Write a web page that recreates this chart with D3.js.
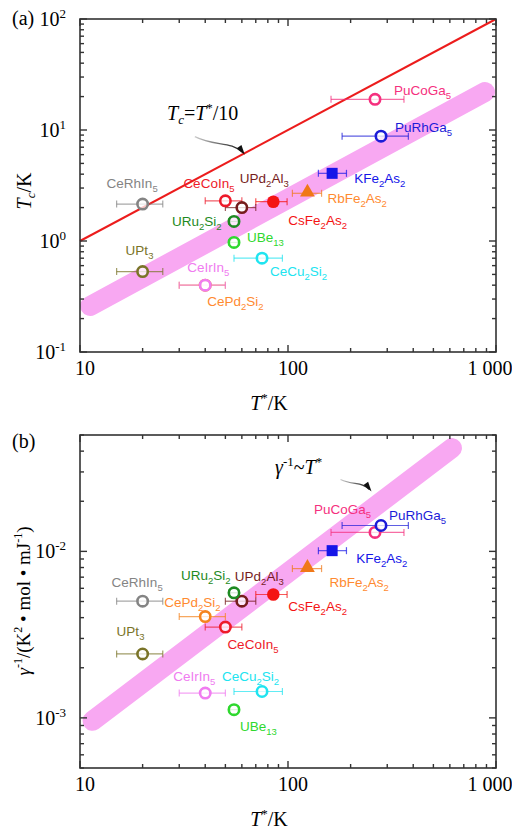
<!DOCTYPE html>
<html>
<head>
<meta charset="utf-8">
<script src="https://cdn.jsdelivr.net/npm/d3@7"></script>
<style>
  body { margin: 0; background: #fff; }
</style>
</head>
<body>
<div id="chart"></div>
<script>
// ---- data ----
const materials = ["PuCoGa5", "PuRhGa5", "KFe2As2", "RbFe2As2", "CsFe2As2", "CeCoIn5", "UPd2Al3",
                   "URu2Si2", "UBe13", "CeCu2Si2", "CePd2Si2", "CeIrIn5", "UPt3", "CeRhIn5"];
const tStar     = [262, 280, 163, 124, 85, 50, 60, 55, 55, 75, 40, 40, 20, 20];
const tStarLow  = [161, 182, 140, 105, 70, 40, 50, 52, 52, 55, 30, 30, 15, 15];
const tStarHigh = [361, 379, 191, 145, 99, 60, 70, 58, 58, 94, 50, 50, 25, 25];
const tc        = [18.9, 8.8, 4.07, 2.69, 2.26, 2.3, 2.0, 1.5, 0.97, 0.70, 0.40, 0.40, 0.53, 2.15];
const gammaInv  = [0.0130, 0.0143, 0.0101, 0.00788, 0.00551, 0.00351, 0.00502,
                   0.00564, 0.00112, 0.00144, 0.00406, 0.00141, 0.00242, 0.00502];

const tcLine    = [[10, 1], [1000, 100]];          // Tc = T*/10
const tcBand    = [[11.2, 0.26], [885, 22]];
const gammaBand = [[11.5, 0.00096], [614, 0.0417]];

const xTickValues = [10, 100, 1000];
const xTickLabels = ["10", "100", "1 000"];
const yTicksA = [100, 10, 1, 0.1];
const yTicksB = [0.01, 0.001];

// ---- styles ----
const style = {
  PuCoGa5:  {color: "#f5307e", shape: "open"},
  PuRhGa5:  {color: "#1c1cd8", shape: "open"},
  KFe2As2:  {color: "#1515e8", shape: "square"},
  RbFe2As2: {color: "#f07818", label: "#ff8a30", shape: "triangle"},
  CsFe2As2: {color: "#f41414", shape: "filled"},
  CeCoIn5:  {color: "#ee1a2a", shape: "open"},
  UPd2Al3:  {color: "#761c1c", shape: "open"},
  URu2Si2:  {color: "#1e8a22", shape: "open"},
  UBe13:    {color: "#2ed82e", shape: "open"},
  CeCu2Si2: {color: "#20e4f0", shape: "open"},
  CePd2Si2: {color: "#f5841e", label: "#ff8a30", shape: "open"},
  CeIrIn5:  {color: "#f07cf0", shape: "open"},
  UPt3:     {color: "#7a7428", shape: "open"},
  CeRhIn5:  {color: "#848484", shape: "open"}
};
// label offsets (px) relative to each marker, per panel
const labelOffA = {
  PuCoGa5: [19, -4], PuRhGa5: [14, -4], KFe2As2: [22, 10], RbFe2As2: [20, 10], CsFe2As2: [15, 23],
  CeCoIn5: [-42, -13], UPd2Al3: [-2, -25], URu2Si2: [-62, 5], UBe13: [13, 0], CeCu2Si2: [8, 18],
  CePd2Si2: [2, 21], CeIrIn5: [-18, -13], UPt3: [-17, -17], CeRhIn5: [-36, -16]
};
const labelOffB = {
  PuCoGa5: [-61, -18], PuRhGa5: [8, -6], KFe2As2: [24, 12], RbFe2As2: [22, 18], CsFe2As2: [15, 17],
  CeCoIn5: [2, 22], UPd2Al3: [-7, -20], URu2Si2: [-53, -13], UBe13: [6, 21], CeCu2Si2: [-40, -11],
  CePd2Si2: [-41, -10], CeIrIn5: [-32, -12], UPt3: [-26, -18], CeRhIn5: [-31, -14]
};

const width = 512, height = 831;
const left = 80, right = 496;
const bandColor = "#f8a8f2";
const frameColor = "#333";
const serif = "'Liberation Serif', 'Times New Roman', 'DejaVu Serif', serif";
const sans = "'Liberation Sans', Arial, 'DejaVu Sans', sans-serif";

const svg = d3.select("#chart").append("svg")
  .attr("width", width).attr("height", height)
  .attr("font-family", serif);

const x = d3.scaleLog().domain([10, 1000]).range([left, right]);

const panels = [
  {top: 19, bottom: 352, domain: [0.1, 100], values: tc, band: tcBand, offs: labelOffA,
   yTicks: yTicksA, tag: "(a)", tagY: 25},
  {top: 435, bottom: 768, domain: [0.0005, 0.05], values: gammaInv, band: gammaBand, offs: labelOffB,
   yTicks: yTicksB, tag: "(b)", tagY: 448}
];

// write a chemical formula with numeric subscripts
function formula(sel, str) {
  const parts = str.match(/\d+|\D+/g);
  let down = false;
  parts.forEach(p => {
    const isNum = /\d/.test(p);
    const t = sel.append("tspan").text(p);
    if (isNum) { t.attr("font-size", 9.5).attr("dy", 4); down = true; }
    else if (down) { t.attr("dy", -4); down = false; }
  });
}

function tenPow(sel, e) {
  sel.append("tspan").text("10");
  sel.append("tspan").attr("font-size", 13).attr("dy", -8).text(e);
}

panels.forEach(p => {
  const y = d3.scaleLog().domain(p.domain).range([p.bottom, p.top]);
  const g = svg.append("g");
  const line = d3.line().x(d => x(d[0])).y(d => y(d[1]));

  // band
  g.append("path").attr("d", line(p.band))
    .attr("stroke", bandColor).attr("stroke-width", 20)
    .attr("stroke-linecap", "round").attr("fill", "none");

  if (p.tag === "(a)") {
    g.append("path").attr("d", line(tcLine))
      .attr("stroke", "#ec1c1c").attr("stroke-width", 2).attr("fill", "none");
  }

  // frame and ticks on all four sides
  g.append("rect").attr("x", left).attr("y", p.top)
    .attr("width", right - left).attr("height", p.bottom - p.top)
    .attr("fill", "none").attr("stroke", frameColor).attr("stroke-width", 1.6);

  const isMajor = v => Math.abs(Math.log10(v) - Math.round(Math.log10(v))) < 1e-9;
  x.ticks().forEach(v => {
    const len = isMajor(v) ? 7 : 4, px = x(v);
    g.append("line").attr("x1", px).attr("x2", px).attr("y1", p.bottom).attr("y2", p.bottom - len);
    g.append("line").attr("x1", px).attr("x2", px).attr("y1", p.top).attr("y2", p.top + len);
  });
  y.ticks().forEach(v => {
    const len = isMajor(v) ? 7 : 4, py = y(v);
    g.append("line").attr("x1", left).attr("x2", left + len).attr("y1", py).attr("y2", py);
    g.append("line").attr("x1", right).attr("x2", right - len).attr("y1", py).attr("y2", py);
  });
  g.selectAll("line").attr("stroke", frameColor).attr("stroke-width", 1.4);

  // tick labels
  xTickValues.forEach((v, i) => {
    g.append("text").attr("x", x(v) + (i === 2 ? -6 : 5)).attr("y", p.bottom + 23)
      .attr("text-anchor", "middle").attr("font-size", 20).text(xTickLabels[i]);
  });
  p.yTicks.forEach(v => {
    const t = g.append("text").attr("x", 66).attr("y", y(v) + 7)
      .attr("text-anchor", "end").attr("font-size", 20);
    tenPow(t, String(Math.round(Math.log10(v))));
  });

  // x title
  const xt = g.append("text").attr("x", 269).attr("y", p.bottom + 58)
    .attr("text-anchor", "middle").attr("font-size", 20);
  xt.append("tspan").attr("font-style", "italic").text("T");
  xt.append("tspan").attr("font-size", 13).attr("dy", -8).text("*");
  xt.append("tspan").attr("dy", 8).text("/K");

  // panel tag
  g.append("text").attr("x", 12).attr("y", p.tagY).attr("font-size", 20).text(p.tag);

  // error bars
  const idx = d3.range(materials.length);
  const eb = g.append("g");
  idx.forEach(i => {
    const c = style[materials[i]].color, py = y(p.values[i]);
    const x0 = x(tStarLow[i]), x1 = x(tStarHigh[i]);
    eb.append("line").attr("x1", x0).attr("x2", x1).attr("y1", py).attr("y2", py);
    eb.append("line").attr("x1", x0).attr("x2", x0).attr("y1", py - 3.5).attr("y2", py + 3.5);
    eb.append("line").attr("x1", x1).attr("x2", x1).attr("y1", py - 3.5).attr("y2", py + 3.5);
    eb.selectAll("line:not([stroke])").attr("stroke", c).attr("stroke-width", 1.2).attr("opacity", 0.7);
  });

  // markers
  idx.forEach(i => {
    const s = style[materials[i]], px = x(tStar[i]), py = y(p.values[i]);
    if (s.shape === "open") {
      g.append("circle").attr("cx", px).attr("cy", py).attr("r", 5.2)
        .attr("fill", "#fff").attr("fill-opacity", 0.75)
        .attr("stroke", s.color).attr("stroke-width", 2.6);
    } else if (s.shape === "filled") {
      g.append("circle").attr("cx", px).attr("cy", py).attr("r", 6.3).attr("fill", s.color);
    } else if (s.shape === "square") {
      g.append("rect").attr("x", px - 5.5).attr("y", py - 5.5).attr("width", 11).attr("height", 11)
        .attr("fill", s.color);
    } else {
      g.append("path").attr("d", d3.symbol(d3.symbolTriangle, 95)())
        .attr("transform", `translate(${px},${py - 1})`).attr("fill", s.color);
    }
  });

  // labels
  idx.forEach(i => {
    const name = materials[i], s = style[name], o = p.offs[name];
    const t = g.append("text").attr("font-family", sans)
      .attr("x", x(tStar[i]) + o[0]).attr("y", y(p.values[i]) + o[1])
      .attr("font-size", 13.5).attr("fill", s.label || s.color);
    formula(t, name);
  });

  p.y = y;
});

// ---- axis titles & annotations ----
const yA = panels[0].y, yB = panels[1].y;

const ytA = svg.append("text").attr("transform", "translate(31,191) rotate(-90)")
  .attr("text-anchor", "middle").attr("font-size", 20);
ytA.append("tspan").attr("font-style", "italic").text("T");
ytA.append("tspan").attr("font-style", "italic").attr("font-size", 13).attr("dy", 4).text("c");
ytA.append("tspan").attr("dy", -4).text("/K");

const ytB = svg.append("text").attr("transform", "translate(30,601) rotate(-90)")
  .attr("text-anchor", "middle").attr("font-size", 19);
ytB.append("tspan").attr("font-style", "italic").text("γ");
ytB.append("tspan").attr("font-size", 12).attr("dy", -8).text("-1");
ytB.append("tspan").attr("dy", 8).text("/(K");
ytB.append("tspan").attr("font-size", 12).attr("dy", -8).text("2");
ytB.append("tspan").attr("dy", 8).text(" • mol • mJ");
ytB.append("tspan").attr("font-size", 12).attr("dy", -8).text("-1");
ytB.append("tspan").attr("dy", 8).text(")");

// Tc = T*/10 annotation
const annA = svg.append("text").attr("x", 167).attr("y", 120).attr("font-size", 20);
annA.append("tspan").attr("font-style", "italic").text("T");
annA.append("tspan").attr("font-style", "italic").attr("font-size", 13).attr("dy", 4).text("c");
annA.append("tspan").attr("dy", -4).text("=");
annA.append("tspan").attr("font-style", "italic").text("T");
annA.append("tspan").attr("font-size", 13).attr("dy", -8).text("*");
annA.append("tspan").attr("dy", 8).text("/10");

const annB = svg.append("text").attr("x", 275).attr("y", 474).attr("font-size", 20);
annB.append("tspan").attr("font-style", "italic").text("γ");
annB.append("tspan").attr("font-size", 13).attr("dy", -8).text("-1");
annB.append("tspan").attr("dy", 8).text("~");
annB.append("tspan").attr("font-style", "italic").text("T");
annB.append("tspan").attr("font-size", 13).attr("dy", -8).text("*");

// curved pointer arrows, tips given in data units
const defs = svg.append("defs");
const grad = defs.append("linearGradient").attr("id", "arrowGrad");
grad.append("stop").attr("offset", "0%").attr("stop-color", "#ccc");
grad.append("stop").attr("offset", "100%").attr("stop-color", "#111");

function pointer(tx, ty, d) {
  svg.append("path").attr("d", d).attr("transform", `translate(${tx},${ty})`)
    .attr("fill", "none").attr("stroke", "url(#arrowGrad)").attr("stroke-width", 1.3);
  svg.append("path").attr("d", "M0,0 L-9,-5 L-5,-9 Z")
    .attr("transform", `translate(${tx},${ty}) rotate(10)`).attr("fill", "#111");
}
pointer(x(62), yA(6.0), "M-50,-18 C-30,-8 -14,-14 -2,-2");
pointer(x(252), yB(0.0229), "M-31,-12 C-18,-6 -10,-10 -2,-2");
</script>
</body>
</html>
